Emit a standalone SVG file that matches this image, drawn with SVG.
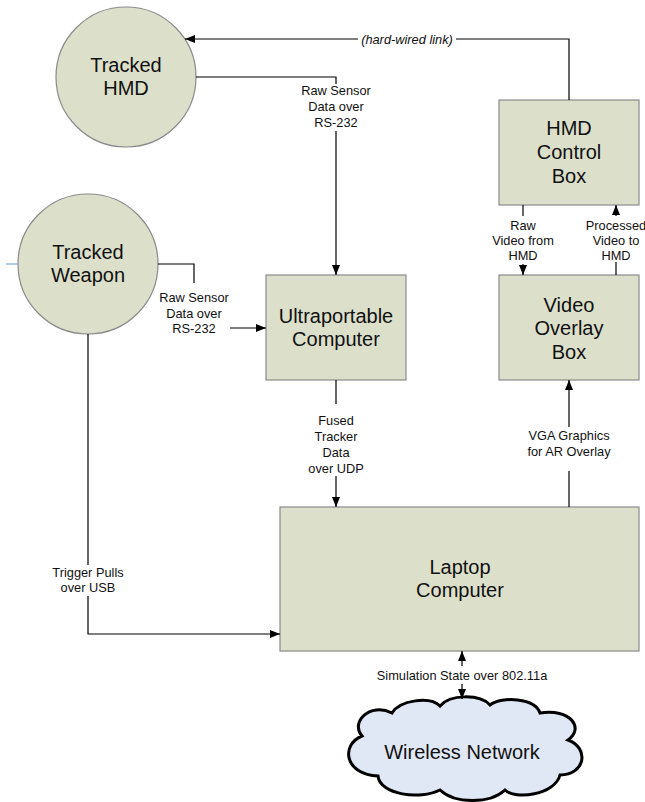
<svg xmlns="http://www.w3.org/2000/svg" width="645" height="802" viewBox="0 0 645 802">
<defs>
<marker id="arr" viewBox="0 0 10 8" refX="10" refY="4" markerWidth="10" markerHeight="8" markerUnits="userSpaceOnUse" orient="auto">
<path d="M0,0 L10,4 L0,8 Z" fill="#000"/>
</marker>
<style>
.node{fill:#dce0cb;stroke:#8a8a8a;stroke-width:1.2}
.nt{font-family:"Liberation Sans",Arial,sans-serif;font-size:20px;fill:#111;text-anchor:middle}
.lt{font-family:"Liberation Sans",Arial,sans-serif;font-size:12.8px;fill:#111;text-anchor:middle}
.c{fill:none;stroke:#000;stroke-width:1.2}
.a{marker-end:url(#arr)}
</style>
</defs>
<rect width="645" height="802" fill="#fff"/>

<g id="tracked-hmd">
<circle class="node" cx="126" cy="77" r="70"/>
<text class="nt" x="126" y="72">Tracked</text>
<text class="nt" x="126" y="95">HMD</text>
</g>

<g id="tracked-weapon">
<circle class="node" cx="88" cy="264" r="70"/>
<text class="nt" x="88" y="259">Tracked</text>
<text class="nt" x="88" y="282">Weapon</text>
</g>

<g id="hmd-control-box">
<rect class="node" x="499" y="100" width="140" height="105"/>
<text class="nt" x="569" y="135">HMD</text>
<text class="nt" x="569" y="159">Control</text>
<text class="nt" x="569" y="183">Box</text>
</g>

<g id="ultraportable-computer">
<rect class="node" x="266" y="275" width="140" height="105"/>
<text class="nt" x="336" y="323">Ultraportable</text>
<text class="nt" x="336" y="346">Computer</text>
</g>

<g id="video-overlay-box">
<rect class="node" x="499" y="275" width="140" height="105"/>
<text class="nt" x="569" y="312">Video</text>
<text class="nt" x="569" y="335">Overlay</text>
<text class="nt" x="569" y="359">Box</text>
</g>

<g id="laptop-computer">
<rect class="node" x="280" y="507" width="359" height="144"/>
<text class="nt" x="460" y="574">Laptop</text>
<text class="nt" x="460" y="597">Computer</text>
</g>

<g id="wireless-network">
<path d="M362,736 C350,722 370,702 392,713 C400,700 430,696 440,706 C450,694 480,694 490,705 C502,696 535,698 540,713 C570,708 585,728 568,740 C590,748 585,775 560,775 C555,795 515,800 505,790 C490,804 455,804 440,790 C420,800 380,795 378,776 C345,775 340,745 362,736 Z" fill="#e1e8f5" stroke="#000" stroke-width="3"/>
<text class="nt" x="462" y="759">Wireless Network</text>
</g>

<g id="connectors">
<path class="c" d="M569,100 V39 H456"/>
<path class="c a" d="M358,39 H185"/>
<text class="lt" x="407" y="43.5" font-style="italic">(hard-wired link)</text>

<path class="c" d="M196,77 H336 V84"/>
<path class="c a" d="M336,131 V275"/>
<text class="lt" x="336" y="95">Raw Sensor</text>
<text class="lt" x="336" y="111">Data over</text>
<text class="lt" x="336" y="127">RS-232</text>

<path d="M6,264 H18" fill="none" stroke="#7fa6d8" stroke-width="1.2"/>
<path class="c" d="M158,264 H194 V283"/>
<path class="c a" d="M230,328 H266"/>
<text class="lt" x="194" y="302">Raw Sensor</text>
<text class="lt" x="194" y="318">Data over</text>
<text class="lt" x="194" y="333">RS-232</text>

<path class="c" d="M88,334 V565"/>
<path class="c a" d="M88,596 V634 H280"/>
<text class="lt" x="88" y="577">Trigger Pulls</text>
<text class="lt" x="88" y="592">over USB</text>

<path class="c" d="M336,380 V404"/>
<path class="c a" d="M336,476 V507"/>
<text class="lt" x="336" y="425">Fused</text>
<text class="lt" x="336" y="441">Tracker</text>
<text class="lt" x="336" y="457">Data</text>
<text class="lt" x="336" y="473">over UDP</text>

<path class="c" d="M569,507 V471"/>
<path class="c a" d="M569,427 V380"/>
<text class="lt" x="569" y="440">VGA Graphics</text>
<text class="lt" x="569" y="456">for AR Overlay</text>

<path class="c" d="M523,205 V216"/>
<path class="c a" d="M523,264 V275"/>
<text class="lt" x="523" y="230">Raw</text>
<text class="lt" x="523" y="245">Video from</text>
<text class="lt" x="523" y="260">HMD</text>

<path class="c" d="M616,275 V262"/>
<path class="c a" d="M616,216 V205"/>
<text class="lt" x="616" y="230">Processed</text>
<text class="lt" x="616" y="245">Video to</text>
<text class="lt" x="616" y="260">HMD</text>

<path class="c a" d="M462,666 V651"/>
<path class="c a" d="M462,684 V699"/>
<text class="lt" x="462" y="680">Simulation State over 802.11a</text>
</g>
</svg>
